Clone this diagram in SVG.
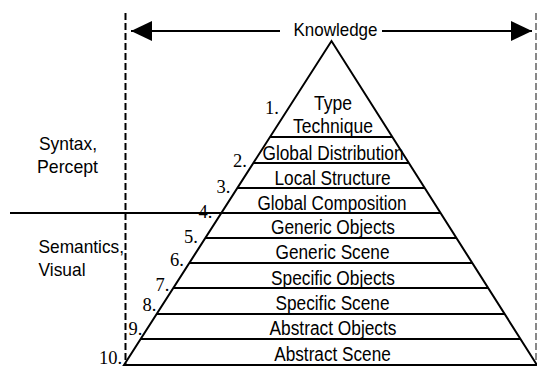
<svg xmlns="http://www.w3.org/2000/svg" width="537" height="367" viewBox="0 0 537 367">
<style>
.lab { font-family: "Liberation Sans", Arial, sans-serif; font-size: 19.5px; fill: #000; text-anchor: middle; }
.side { font-family: "Liberation Sans", Arial, sans-serif; font-size: 19px; fill: #000; }
.num { font-family: "Liberation Serif", "Times New Roman", serif; font-size: 18.5px; fill: #000; }
.ln { stroke: #000; stroke-width: 2; fill: none; }
.dash { stroke-width: 2; fill: none; stroke-dasharray: 7 3; }
</style>
<defs>
<marker id="ah" viewBox="0 0 21 20" refX="21" refY="10" markerWidth="21" markerHeight="20" markerUnits="userSpaceOnUse" orient="auto-start-reverse">
<path d="M0,0 L21,10 L0,20 Z" fill="#000"/>
</marker>
</defs>
<rect width="537" height="367" fill="#fff"/>

<g id="boundaries">
<line class="dash" x1="125.5" y1="13" x2="125.5" y2="365" stroke="#000"/>
<line class="dash" x1="536" y1="13" x2="536" y2="365" stroke="#888" stroke-width="1.5"/>
<line class="ln" x1="10" y1="213" x2="230" y2="213"/>
</g>

<g id="connectors">
<line class="ln" x1="280" y1="31" x2="131" y2="31" marker-end="url(#ah)"/>
<line class="ln" x1="382" y1="31" x2="532" y2="31" marker-end="url(#ah)"/>
</g>

<g id="knowledge">
<text class="side" x="335.5" y="36" font-size="17.5" text-anchor="middle" textLength="84" lengthAdjust="spacingAndGlyphs">Knowledge</text>
</g>

<g id="pyramid">
<path class="ln" d="M124,365 L331.5,41 L537,365 Z"/>
</g>

<g id="level1">
<text class="num" x="265" y="114">1.</text>
<text class="lab" x="333" y="110" textLength="38" lengthAdjust="spacingAndGlyphs">Type</text>
<text class="lab" x="333" y="133" textLength="80" lengthAdjust="spacingAndGlyphs">Technique</text>
<line class="ln" x1="270" y1="137" x2="392.4" y2="137"/>
</g>
<g id="level2">
<text class="num" x="233" y="167">2.</text>
<text class="lab" x="333" y="160" textLength="141" lengthAdjust="spacingAndGlyphs">Global Distribution</text>
<line class="ln" x1="253.4" y1="163" x2="408.9" y2="163"/>
</g>
<g id="level3">
<text class="num" x="216.5" y="193">3.</text>
<text class="lab" x="332.5" y="185" textLength="116" lengthAdjust="spacingAndGlyphs">Local Structure</text>
<line class="ln" x1="237.4" y1="188" x2="424.7" y2="188"/>
</g>
<g id="level4">
<text class="num" x="198.5" y="218">4.</text>
<text class="lab" x="332" y="209.5" textLength="149" lengthAdjust="spacingAndGlyphs">Global Composition</text>
<line class="ln" x1="221.3" y1="213" x2="440.6" y2="213"/>
</g>
<g id="level5">
<text class="num" x="184" y="243">5.</text>
<text class="lab" x="333" y="234" textLength="124" lengthAdjust="spacingAndGlyphs">Generic Objects</text>
<line class="ln" x1="205.3" y1="238" x2="456.4" y2="238"/>
</g>
<g id="level6">
<text class="num" x="170" y="266">6.</text>
<text class="lab" x="332.5" y="259" textLength="114" lengthAdjust="spacingAndGlyphs">Generic Scene</text>
<line class="ln" x1="189.3" y1="263" x2="472.3" y2="263"/>
</g>
<g id="level7">
<text class="num" x="155.5" y="290.5">7.</text>
<text class="lab" x="333" y="284.5" textLength="124" lengthAdjust="spacingAndGlyphs">Specific Objects</text>
<line class="ln" x1="173.3" y1="288" x2="488.2" y2="288"/>
</g>
<g id="level8">
<text class="num" x="142.5" y="311">8.</text>
<text class="lab" x="332.5" y="310" textLength="114" lengthAdjust="spacingAndGlyphs">Specific Scene</text>
<line class="ln" x1="156.7" y1="314" x2="504.7" y2="314"/>
</g>
<g id="level9">
<text class="num" x="128.5" y="334.5">9.</text>
<text class="lab" x="333" y="335" textLength="127" lengthAdjust="spacingAndGlyphs">Abstract Objects</text>
<line class="ln" x1="140.7" y1="339" x2="520.5" y2="339"/>
</g>
<g id="level10">
<text class="num" x="99" y="364">10.</text>
<text class="lab" x="332.5" y="360.5" textLength="116.5" lengthAdjust="spacingAndGlyphs">Abstract Scene</text>
</g>

<g id="syntax">
<text class="side" x="39" y="150" textLength="58" lengthAdjust="spacingAndGlyphs">Syntax,</text>
<text class="side" x="37" y="172.5" textLength="61" lengthAdjust="spacingAndGlyphs">Percept</text>
</g>
<g id="semantics">
<text class="side" x="38.5" y="252.5" textLength="85.5" lengthAdjust="spacingAndGlyphs">Semantics,</text>
<text class="side" x="38.5" y="276" textLength="47" lengthAdjust="spacingAndGlyphs">Visual</text>
</g>
</svg>
